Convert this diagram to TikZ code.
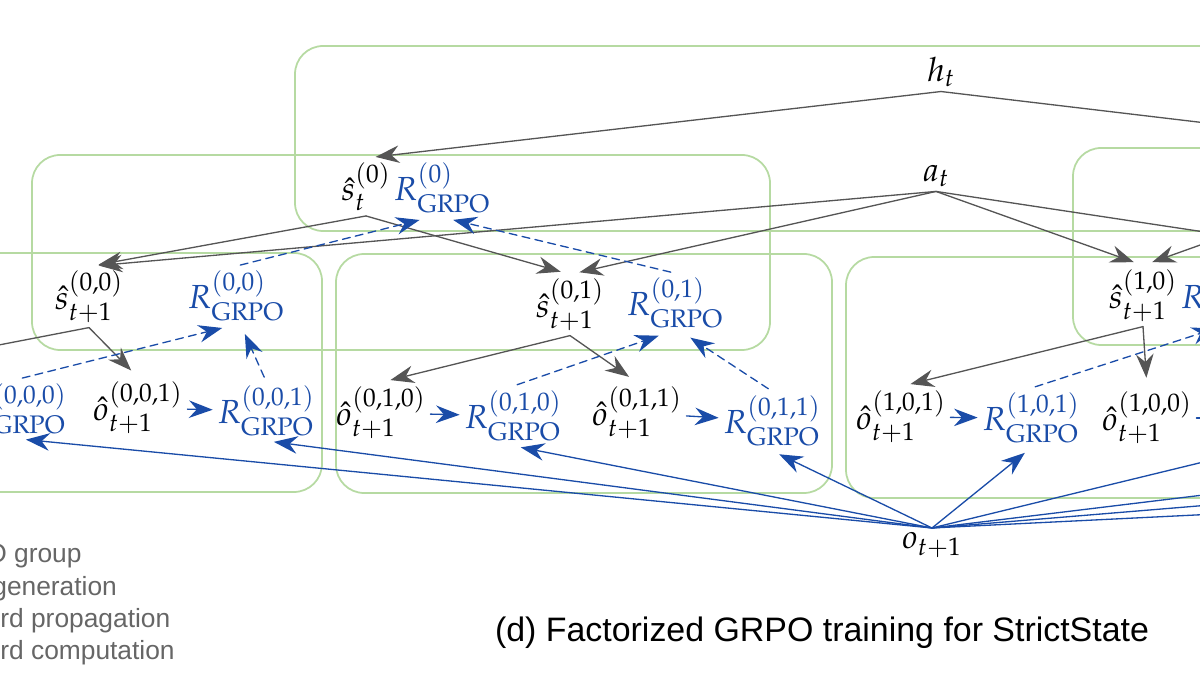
\documentclass[tikz,border=0pt]{standalone}
\usepackage[no-math]{fontspec}
\usepackage{mathpazo}
\usepackage{tikz}
\usetikzlibrary{arrows.meta}
\newfontfamily\labelsans{Liberation Sans}
\definecolor{boxgreen}{RGB}{182,218,162}
\definecolor{edgegray}{RGB}{85,85,85}
\definecolor{rwblue}{RGB}{26,76,168}
\definecolor{legendgray}{RGB}{102,102,102}
\tikzset{
  st/.style={inner sep=2.5pt,font=\fontsize{19}{23}\selectfont},
  rw/.style={st,text=rwblue},
  grp/.style={draw=boxgreen,line width=1pt,rounded corners=16pt},
  gen/.style={->,edgegray,line width=0.75pt,shorten >=5.5pt},
  rcomp/.style={->,rwblue,line width=0.75pt,shorten >=4.5pt},
  rprop/.style={->,rwblue,line width=0.75pt,dash pattern=on 4.5pt off 3pt,shorten >=5pt,shorten <=2.5pt},
  legend/.style={anchor=base west,inner sep=0pt,text=legendgray,font=\labelsans\fontsize{15}{17}\selectfont},
}

\begin{document}
\begin{tikzpicture}[x=0.02cm,y=-0.02cm,>={Stealth[length=13.5pt,width=10pt,inset=4.5pt]},line cap=round]
\useasboundingbox (0,0) rectangle (1200,675);
\clip (0,0) rectangle (1200,675);
% groups
\draw[grp] (295,46) rectangle (1300,231);
\draw[grp] (32,155) rectangle (770,350);
\draw[grp] (-200,253) rectangle (322,492);
\draw[grp] (336,254) rectangle (832,493);
\draw[grp] (846,257) rectangle (1400,498);
\draw[grp] (1073,148) rectangle (1600,345);
% nodes
\node[st] (ht) at (941,72) {$h_t$};
\node[st] (at) at (936,176) {$a_t$};
\node[st] (s0) at (366,187) {$\hat{s}^{(0)}_t$};
\node[rw] (r0) at (442,188) {$R^{(0)}_{\mathrm{GRPO}}$};
\node[st] (s00) at (89,297) {$\hat{s}^{(0,0)}_{t+1}$};
\node[rw] (r00) at (236,296) {$R^{(0,0)}_{\mathrm{GRPO}}$};
\node[st] (s01) at (570,305) {$\hat{s}^{(0,1)}_{t+1}$};
\node[rw] (r01) at (675,303) {$R^{(0,1)}_{\mathrm{GRPO}}$};
\node[st] (s10) at (1143,296) {$\hat{s}^{(1,0)}_{t+1}$};
\node[rw] (r10) at (1229,296) {$R^{(1,0)}_{\mathrm{GRPO}}$};
\node[rw] (r000) at (18,409) {$R^{(0,0,0)}_{\mathrm{GRPO}}$};
\node[st] (o001) at (138,408) {$\hat{o}^{(0,0,1)}_{t+1}$};
\node[rw] (r001) at (266,411) {$R^{(0,0,1)}_{\mathrm{GRPO}}$};
\node[st] (o010) at (381,413) {$\hat{o}^{(0,1,0)}_{t+1}$};
\node[rw] (r010) at (513,416) {$R^{(0,1,0)}_{\mathrm{GRPO}}$};
\node[st] (o011) at (637,413) {$\hat{o}^{(0,1,1)}_{t+1}$};
\node[rw] (r011) at (772,421) {$R^{(0,1,1)}_{\mathrm{GRPO}}$};
\node[st] (o101) at (901,417) {$\hat{o}^{(1,0,1)}_{t+1}$};
\node[rw] (r101) at (1031,418) {$R^{(1,0,1)}_{\mathrm{GRPO}}$};
\node[st] (o100) at (1147,418) {$\hat{o}^{(1,0,0)}_{t+1}$};
\node[st] (ot1) at (932,545) {$o_{t+1}$};
% off-picture ends
\coordinate (s1n) at (1400,146);
\coordinate (s1s) at (1290,213);
\coordinate (s11n) at (1423,265);
\coordinate (o000n) at (-110,366);
\coordinate (r100w) at (1265,418);
\coordinate (r100s) at (1265,447);
\coordinate (r110s) at (1500,459);
\coordinate (r111s) at (1500,481);
\coordinate (r1xxs) at (1500,500);
% generation
\draw[gen] (ht.south) -- (s0.north);
\draw[gen] (ht.south) -- (s1n);
\draw[gen] (at.south) -- (s00.north);
\draw[gen] (at.south) -- (s01.north);
\draw[gen] (at.south) -- (s10.north);
\draw[gen] (at.south) -- (s11n);
\draw[gen] (s0.south) -- (s00.north);
\draw[gen] (s0.south) -- (s01.north);
\draw[gen] (s1s) -- (s10.north);
\draw[gen] (s00.south) -- (o000n);
\draw[gen] (s00.south) -- (o001.north);
\draw[gen] (s01.south) -- (o010.north);
\draw[gen] (s01.south) -- (o011.north);
\draw[gen] (s10.south) -- (o101.north);
\draw[gen] (s10.south) -- (o100.north);
% reward computation
\draw[rcomp,shorten >=0pt] (o001) -- (r001);
\draw[rcomp,shorten >=0pt] (o010) -- (r010);
\draw[rcomp,shorten >=0pt] (o011) -- (r011);
\draw[rcomp,shorten >=0pt] (o101) -- (r101);
\draw[rcomp,shorten >=0pt] (o100) -- (r100w);
\draw[rcomp] (ot1.north) -- (r000.south);
\draw[rcomp] (ot1.north) -- (r001.south);
\draw[rcomp] (ot1.north) -- (r010.south);
\draw[rcomp] (ot1.north) -- (r011.south);
\draw[rcomp] (ot1.north) -- (r101.south);
\draw[rcomp] (ot1.north) -- (r100s);
\draw[rcomp] (ot1.north) -- (r110s);
\draw[rcomp] (ot1.north) -- (r111s);
\draw[rcomp] (ot1.north) -- (r1xxs);
% reward propagation
\draw[rprop] (r000.north) -- (r00.-100);
\draw[rprop] (r001.north) -- (r00.-80);
\draw[rprop] (r00.north) -- (r0.-115);
\draw[rprop] (r01.north) -- (r0.-85);
\draw[rprop] (r010.north) -- (r01.-105);
\draw[rprop] (r011.north) -- (r01.-75);
\draw[rprop] (r101.north) -- (r10.-100);
% legend and caption
\node[legend] (lg1) at (-14,562) {O group};
\node[legend] (lg2) at (-8,595) {generation};
\node[legend] (lg3) at (0,627) {rd propagation};
\node[legend] (lg4) at (0,659) {rd computation};
\node[font=\labelsans\fontsize{19.3}{23}\selectfont] (cap) at (822,633) {(d) Factorized GRPO training for StrictState};
\end{tikzpicture}
\end{document}
